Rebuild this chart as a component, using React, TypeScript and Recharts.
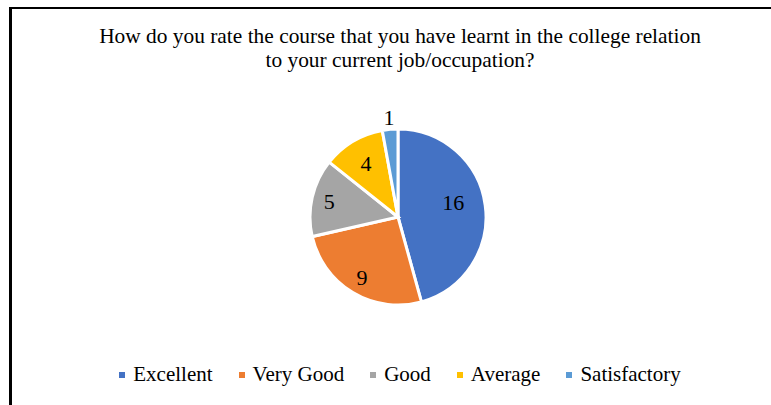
import { PieChart, Pie, Cell, Legend } from "recharts";

const categories = ["Excellent", "Very Good", "Good", "Average", "Satisfactory"];
const counts = [16, 9, 5, 4, 1];
const colors = ["#4472C4", "#ED7D31", "#A5A5A5", "#FFC000", "#5B9BD5"];

const titleLines = [
  "How do you rate the course that you have learnt in the college relation",
  "to your current job/occupation?",
];

const data = categories.map((name, i) => ({ name, value: counts[i] }));

const FONT = '"Liberation Serif", "Times New Roman", serif';
const RADIAN = Math.PI / 180;
// where Excel's best-fit put each data label, as a fraction of the radius
const labelRadius = [0.65, 0.8, 0.8, 0.71, 1.13];
// small angle nudge (deg) for labels that sit off the slice middle
const labelTurn = [7, 0, 0, 0, 0];

const renderLabel = (props: any) => {
  const { cx, cy, midAngle, outerRadius, value, index } = props;
  const r = outerRadius * labelRadius[index];
  const a = (midAngle + labelTurn[index]) * RADIAN;
  const x = cx + r * Math.cos(-a);
  const y = cy + r * Math.sin(-a);
  return (
    <text
      x={x}
      y={y}
      fill="#000"
      textAnchor="middle"
      dominantBaseline="central"
      fontFamily={FONT}
      fontSize={22}
    >
      {value}
    </text>
  );
};

const renderLegend = () => (
  <div style={{ display: "flex", justifyContent: "center", alignItems: "center" }}>
    {categories.map((c, i) => (
      <div
        key={c}
        style={{ display: "flex", alignItems: "center", marginRight: i < categories.length - 1 ? 26 : 0 }}
      >
        <span
          style={{ width: 6, height: 6, background: colors[i], display: "inline-block", marginRight: 8 }}
        />
        <span style={{ fontFamily: FONT, fontSize: 21, color: "#000" }}>{c}</span>
      </div>
    ))}
  </div>
);

export default function App() {
  return (
    <div
      style={{
        position: "absolute",
        left: 0,
        top: 0,
        width: 771,
        height: 405,
        overflow: "hidden",
        background: "#fff",
      }}
    >
      <div
        style={{
          position: "absolute",
          left: 9,
          top: 7,
          width: 800,
          height: 440,
          borderLeft: "3px solid #000",
          borderTop: "2px solid #000",
        }}
      />
      <div
        style={{
          position: "absolute",
          top: 24,
          left: 0,
          width: 800,
          textAlign: "center",
          fontFamily: FONT,
          fontSize: 21.4,
          lineHeight: "24px",
          color: "#000",
        }}
      >
        {titleLines.map((t, i) => (
          <div key={i}>{t}</div>
        ))}
      </div>
      <PieChart
        width={771}
        height={405}
        margin={{ top: 0, right: 0, bottom: 0, left: 0 }}
        style={{ position: "absolute", left: 0, top: 0 }}
      >
        <Pie
          data={data}
          dataKey="value"
          nameKey="name"
          cx={398}
          cy={217}
          outerRadius={88}
          startAngle={90}
          endAngle={-270}
          stroke="#fff"
          strokeWidth={3}
          label={renderLabel}
          labelLine={false}
          isAnimationActive={false}
        >
          {data.map((d, i) => (
            <Cell key={d.name} fill={colors[i]} />
          ))}
        </Pie>
        <Legend
          content={renderLegend}
          wrapperStyle={{ position: "absolute", top: 362, left: 0, width: 800 }}
        />
      </PieChart>
    </div>
  );
}
